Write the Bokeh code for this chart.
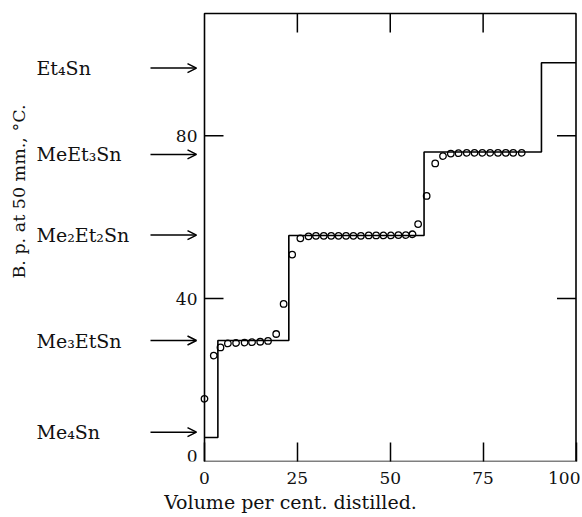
import math
from bokeh.plotting import figure
from bokeh.models import Range1d, LinearAxis, FixedTicker, Arrow, OpenHead
from bokeh.core.properties import value
from bokeh.embed import file_html
from bokeh.resources import INLINE

# ---- data -------------------------------------------------------------
# theoretical step curve (ideal separation): break points and plateau levels
step_x = [0, 3.6, 22.7, 59.1, 90.7, 100]
step_y = [5.9, 29.7, 55.5, 76.0, 97.9, 97.9]

# observed boiling points during the distillation
obs_x = [0.0, 2.5, 4.3, 6.3, 8.5, 10.8, 12.8, 15.0, 17.1, 19.3, 21.3,
         23.6, 25.8, 28.0, 30.0, 32.1, 34.1, 36.1, 38.1, 40.1, 42.1, 44.2,
         46.2, 48.2, 50.2, 52.2, 54.2, 56.0, 57.5,
         59.8, 62.1, 64.2, 66.3, 68.4, 70.6, 72.7, 74.8, 76.9, 79.0, 81.1,
         83.1, 85.4]
obs_y = [15.4, 26.0, 28.0, 29.0, 29.1, 29.2, 29.3, 29.4, 29.6, 31.3, 38.7,
         50.8, 54.8, 55.3, 55.4, 55.4, 55.4, 55.4, 55.4, 55.4, 55.4, 55.5,
         55.5, 55.5, 55.5, 55.6, 55.6, 55.8, 58.3,
         65.2, 73.2, 75.0, 75.6, 75.7, 75.8, 75.8, 75.8, 75.8, 75.8, 75.8,
         75.8, 75.8]

# pure compounds and their boiling points (arrows)
compounds = ["Et\u2084Sn", "MeEt\u2083Sn", "Me\u2082Et\u2082Sn", "Me\u2083EtSn", "Me\u2084Sn"]
compound_bp = [96.6, 75.4, 55.6, 29.7, 7.2]

x_lim = (0, 100)
y_lim = (0, 110)
x_ticks = [0, 25, 50, 75, 100]
x_tick_labels = ["0", "25", "50", "75", "100"]
y_ticks = [0, 40, 80]
y_tick_labels = ["0", "40", "80"]

x_title = "Volume per cent. distilled."
y_title = "B. p. at 50 mm., \u00b0C."

# ---- layout (pixels) --------------------------------------------------
FONT = "DejaVu Serif"
W = 580                 # canvas width; plot frame spans it all
BOX_LEFT, BOX_RIGHT = 204.0, 575.5   # plot box edges in pixels
BOX_TOP, BOX_BOTTOM = 13.0, 461.0
sx = (BOX_RIGHT - BOX_LEFT) / (x_lim[1] - x_lim[0])   # px per x unit
sy = (BOX_BOTTOM - BOX_TOP) / (y_lim[1] - y_lim[0])   # px per y unit
x_start = x_lim[0] - BOX_LEFT / sx
x_end = x_lim[1] + (W - BOX_RIGHT) / sx
y_end = y_lim[1] + BOX_TOP / sy
tick_dx = 19 / sx
tick_dy = 19 / sy

p = figure(frame_width=W, frame_height=int(BOX_BOTTOM),
           min_border_left=0, min_border_right=0,
           min_border_top=0, min_border_bottom=56,
           x_range=Range1d(x_start, x_end), y_range=Range1d(y_lim[0], y_end),
           output_backend="svg", toolbar_location=None,
           x_axis_location=None, y_axis_location=None)
p.xgrid.visible = False
p.ygrid.visible = False
p.outline_line_color = None
p.background_fill_color = "white"
p.border_fill_color = "white"

# bottom axis: tick labels + title (title centred on the whole figure)
bottom = LinearAxis(ticker=FixedTicker(ticks=x_ticks))
bottom.major_label_overrides = {t: l for t, l in zip(x_ticks, x_tick_labels)}
bottom.minor_tick_line_color = None
bottom.major_tick_in = 19
bottom.major_tick_out = 0
bottom.major_tick_line_color = "black"
bottom.major_tick_line_width = 1.5
bottom.axis_line_color = None
bottom.major_label_standoff = 10
bottom.major_label_text_font = FONT
bottom.major_label_text_font_size = "17px"
bottom.major_label_text_color = "#111111"
bottom.axis_label = x_title
bottom.axis_label_text_font = FONT
bottom.axis_label_text_font_size = "19px"
bottom.axis_label_text_font_style = "normal"
bottom.axis_label_text_color = "#111111"
bottom.axis_label_standoff = 4
p.add_layout(bottom, "below")

# plot box
p.quad(left=x_lim[0], right=x_lim[1], bottom=y_lim[0], top=y_lim[1],
       fill_color=None, line_color="black", line_width=1.6)

# inward ticks: top (x) and left/right (y)
xt = [t for t in x_ticks if x_lim[0] < t < x_lim[1]]
p.segment(x0=xt, y0=[y_lim[1]] * len(xt), x1=xt, y1=[y_lim[1] - tick_dy] * len(xt),
          line_color="black", line_width=1.5)
yt = [t for t in y_ticks if y_lim[0] < t < y_lim[1]]
p.segment(x0=[x_lim[0]] * len(yt), y0=yt, x1=[x_lim[0] + tick_dx] * len(yt), y1=yt,
          line_color="black", line_width=1.5)
p.segment(x0=[x_lim[1]] * len(yt), y0=yt, x1=[x_lim[1] - tick_dx] * len(yt), y1=yt,
          line_color="black", line_width=1.5)

# y tick labels
lab_mid = [(t, l) for t, l in zip(y_ticks, y_tick_labels) if t > y_lim[0]]
lab_low = [(t, l) for t, l in zip(y_ticks, y_tick_labels) if t == y_lim[0]]
p.text(x=x_lim[0] - 7 / sx, y=[t for t, _ in lab_mid], text=[l for _, l in lab_mid],
       text_font=value(FONT), text_font_size="17px", text_align="right",
       text_baseline="middle", text_color="#111111")
p.text(x=x_lim[0] - 7 / sx, y=[t for t, _ in lab_low], text=[l for _, l in lab_low],
       text_font=value(FONT), text_font_size="17px", text_align="right",
       text_baseline="bottom", text_color="#111111")

# y title
p.text(x=x_start + 18 / sx, y=y_lim[0] + (BOX_BOTTOM - 191) / sy, text=[y_title],
       text_font=value(FONT), text_font_size="17.5px", text_align="center",
       text_baseline="middle", angle=math.pi / 2, text_color="#111111")

# theoretical steps
p.step(step_x, step_y, mode="after", line_color="black", line_width=1.6)

# observed points
p.scatter(obs_x, obs_y, size=6.5, fill_color=None, line_color="black", line_width=1.3)

# compound labels with arrows
p.text(x=x_start + 36 / sx, y=compound_bp, text=compounds, text_font=value(FONT),
       text_font_size="19px", text_align="left", text_baseline="middle",
       text_color="#111111")
for bp in compound_bp:
    p.add_layout(Arrow(x_start=x_start + 150 / sx, y_start=bp,
                       x_end=x_start + 196 / sx, y_end=bp,
                       line_color="black", line_width=1.5,
                       end=OpenHead(size=9, line_color="black", line_width=1.5)))

open("out.html", "w").write(file_html(p, INLINE))
